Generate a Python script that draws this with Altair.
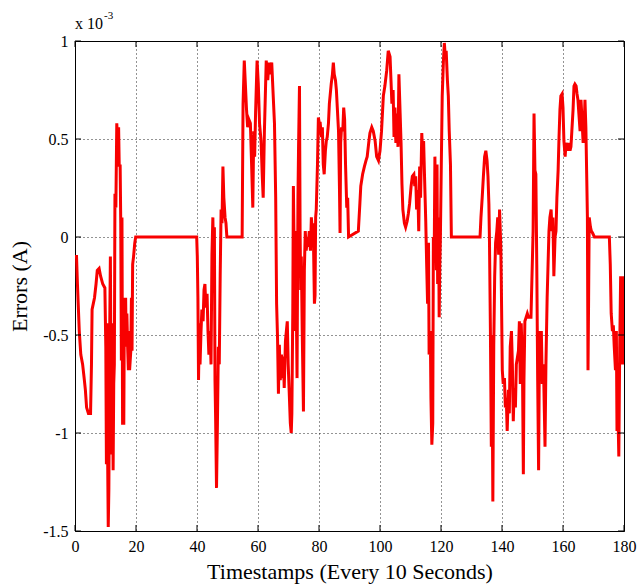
import altair as alt
import pandas as pd

# Errors in units of 1e-3 A
xs = [0, 0.5, 0.8, 1.1, 1.4, 1.9, 2.5, 3.0, 3.4, 3.8, 4.4, 5.1, 5.4, 5.6, 6.0, 6.4, 6.9, 7.3, 7.9, 8.4, 9.1, 9.8,
      10.1, 10.3, 10.5, 10.7, 10.9, 11.1, 11.4, 11.6, 11.8, 12.0, 12.2, 12.5, 12.7, 12.9, 13.1, 13.4, 13.7, 14.0,
      14.3, 14.5, 14.8, 15.0, 15.2, 15.4, 15.6, 16.0, 16.2, 16.4, 16.6, 16.8, 17.0, 17.3, 17.5, 17.7, 17.9, 18.3,
      18.5, 18.7, 18.9, 19.2, 19.6, 19.9,
      39.9, 40.1, 40.3, 40.5, 40.8, 41.0, 41.3, 41.6, 42.0, 42.3, 42.6, 42.9, 43.3, 43.6, 43.9, 44.3, 44.6, 44.9,
      45.2, 45.5, 45.7, 45.9, 46.1, 46.4, 46.7, 47.0, 47.3, 47.6, 47.9, 48.2, 48.5, 48.8, 49.2, 49.5, 49.8,
      54.8, 55.1, 55.5, 55.8, 56.2, 56.6, 57.0, 57.5, 57.9, 58.3, 58.6, 58.9, 59.2, 59.7, 60.1, 60.5, 61.0, 61.4,
      61.7, 62.1, 62.4, 62.7, 63.2, 63.6, 64.0, 64.5, 64.9, 65.4, 65.8, 66.1, 66.4, 66.7, 67.0, 67.3, 67.7, 68.0,
      68.3, 68.6, 69.0, 69.3, 69.6, 69.9, 70.3, 70.6, 70.9, 71.1, 71.4, 71.6, 71.8, 72.0, 72.2, 72.6, 72.8, 73.1,
      73.3, 73.6, 73.8, 74.0, 74.2, 74.5, 74.9, 75.2, 75.5, 75.8, 76.2, 76.5, 76.8, 77.2, 77.5, 77.8, 78.1, 78.5,
      78.7, 78.9, 79.1, 79.5, 79.8, 80.1, 80.4, 80.8, 81.1, 81.4, 81.7, 82.1, 82.4, 82.7, 83.1, 83.4, 83.7, 84.0,
      84.4, 84.7, 85.0, 85.4, 85.7, 86.0, 86.4, 86.7, 86.9, 87.1, 87.4, 87.8, 88.1, 88.4, 88.7, 89.1, 89.4, 89.7,
      92.9, 93.4, 93.7, 94.3, 94.9, 95.4, 95.8, 96.3, 96.7, 97.3, 97.8, 98.4, 98.9, 99.5, 100.0, 100.5, 101.1,
      101.6, 102.2, 102.7, 103.3, 103.6, 103.9, 104.3, 104.6, 104.9, 105.2, 105.6, 105.9, 106.2, 106.6, 106.9,
      107.2, 107.5, 108.0, 108.4, 108.9, 109.3, 109.7, 110.2, 110.6, 111.1, 111.4, 111.7, 112.0, 112.4, 112.7,
      113.0, 113.3, 113.7, 114.0, 114.3, 114.6, 115.0, 115.3, 115.6, 115.9, 116.1, 116.5, 116.7, 117.0, 117.3,
      117.5, 117.8, 118.0, 118.3, 118.5, 118.7, 118.9, 119.2, 119.4, 119.6, 119.8, 120.1, 120.4, 120.8, 121.1,
      121.4, 121.7, 122.1, 122.4, 122.7, 123.1, 123.4,
      132.8, 133.1, 133.5, 133.9, 134.3, 134.7, 135.1, 135.4, 135.7, 135.9, 136.2, 136.5, 136.7, 137.0, 137.3,
      137.6, 137.9, 138.3, 138.6, 138.9, 139.2, 139.6, 139.8, 140.1, 140.4, 140.8, 141.1, 141.4, 141.7, 142.1,
      142.4, 142.7, 143.1, 143.4, 143.7, 144.0, 144.4, 144.7, 145.0, 145.4, 145.7, 146.0, 146.3, 146.7, 147.0,
      147.2, 147.5, 147.9, 148.3, 148.7, 149.2, 149.5, 149.8, 150.2, 150.5, 150.8, 151.1, 151.4, 151.7, 152.0,
      152.3, 152.6, 152.9, 153.2, 153.6, 153.9, 154.1, 154.4, 154.8, 155.1, 155.4, 155.7, 156.1, 156.4, 156.7,
      157.0, 157.4, 157.7, 158.0, 158.4, 158.7, 159.0, 159.3, 159.7, 160.0, 160.3, 160.7, 161.0, 161.3, 161.6,
      162.0, 162.3, 162.6, 162.9, 163.3, 163.6, 163.9, 164.3, 164.6, 164.9, 165.2, 165.6, 165.9, 166.2, 166.6,
      166.9, 167.2, 167.5, 167.8, 168.0, 168.2, 168.4, 168.6, 169.0, 169.3, 169.7, 170.3,
      175.2, 175.5, 175.8, 176.2, 176.5, 176.8, 177.2, 177.5, 177.7, 177.9, 178.3, 178.6, 178.9, 179.3, 179.6, 180.0]

ys = [-0.1, -0.1, -0.24, -0.36, -0.48, -0.6, -0.65, -0.72, -0.78, -0.87, -0.9, -0.9, -0.65, -0.37, -0.34, -0.31,
      -0.24, -0.17, -0.16, -0.2, -0.24, -0.26,
      -0.56, -1.16, -0.44, -1.12, -1.48, -1.29, -0.43, -0.1, -0.73, -1.11, -0.44, -1.19, -0.75, -0.65, 0.22, 0.15,
      0.58, 0.46, 0.56, 0.36, 0.37, 0.07, -0.63, 0.1, -0.95, -0.95, -0.31, -0.48, -0.31, -0.56, -0.39, -0.58,
      -0.68, -0.48, -0.68, -0.58, -0.31, -0.58, -0.14, -0.1, -0.03, 0.0,
      0.0, -0.1, -0.31, -0.73, -0.44, -0.65, -0.49, -0.37, -0.43, -0.27, -0.24, -0.36, -0.29, -0.48, -0.6, -0.48,
      -0.65, -0.09, 0.1, -0.2, 0.05, -0.73, -0.92, -1.28, -0.95, -0.56, -0.65, -0.2, 0.14, 0.07, 0.36, 0.2, 0.1,
      0.07, 0.0,
      0.0, 0.68, 0.9, 0.8, 0.66, 0.56, 0.6, 0.58, 0.37, 0.15, 0.54, 0.41, 0.63, 0.9, 0.78, 0.58, 0.49, 0.31, 0.2,
      0.54, 0.72, 0.9, 0.8, 0.89, 0.83, 0.89, 0.75, 0.58, 0.2, -0.34, -0.51, -0.8, -0.55, -0.73, -0.6, -0.72,
      -0.61, -0.77, -0.53, -0.48, -0.43, -0.65, -0.82, -0.95, -1.0, -0.9, -0.39, 0.26, 0.0, -0.48, 0.03, -0.41,
      -0.72, 0.2, 0.46, 0.77, 0.03, -0.27, -0.1, -0.48, -0.89, -0.17, 0.03, -0.07, 0.0, -0.05, 0.03, -0.07, 0.1,
      0.03, 0.07, -0.34, -0.3, 0.1, 0.14, 0.37, 0.61, 0.58, 0.58, 0.51, 0.56, 0.37, 0.32, 0.44, 0.49, 0.51, 0.58,
      0.68, 0.73, 0.78, 0.83, 0.89, 0.83, 0.8, 0.75, 0.66, 0.54, 0.26, 0.02, 0.48, 0.56, 0.54, 0.66, 0.6, 0.37,
      0.15, 0.2, 0.0,
      0.03, 0.17, 0.26, 0.32, 0.36, 0.39, 0.41, 0.48, 0.53, 0.56, 0.54, 0.49, 0.41, 0.39, 0.44, 0.54, 0.72, 0.77,
      0.85, 0.95, 0.92, 0.8, 0.68, 0.75, 0.51, 0.66, 0.48, 0.63, 0.46, 0.83, 0.63, 0.48, 0.27, 0.14, 0.07, 0.05,
      0.08, 0.12, 0.17, 0.26, 0.31, 0.32, 0.26, 0.31, 0.14, 0.24, 0.03, 0.36, 0.2, 0.53, 0.41, 0.49, 0.31, 0.08,
      -0.14, -0.34, -0.03, -0.6, -0.48, -0.82, -1.06, -0.95, 0.0, -0.03, 0.41, 0.03, -0.17, 0.37, -0.24, 0.1,
      -0.41, -0.14, 0.0, 0.37, 0.72, 0.9, 0.99, 0.92, 0.95, 0.8, 0.72, 0.54, 0.37, 0.0,
      0.0, 0.1, 0.2, 0.31, 0.41, 0.44, 0.39, 0.31, 0.17, -0.03, -0.48, -1.07, -0.5, -1.35, -0.55, -0.2, -0.03,
      0.03, 0.1, -0.09, 0.14, -0.05, -0.27, -0.68, -0.75, -0.72, -0.87, -0.82, -0.99, -0.78, -0.9, -0.56, -0.48,
      -0.65, -0.94, -0.77, -0.87, -0.65, -0.62, -0.58, -0.43, -0.75, -0.44, -0.65, -1.21, -0.73, -0.43, -0.41,
      -0.39, -0.41, -0.41, -0.41, -0.22, 0.03, 0.63, 0.34, 0.32, -0.14, -0.73, -1.19, -0.48, -0.65, -0.48, -0.75,
      -0.65, -0.9, -1.07, -0.65, -0.31, -0.14, 0.03, 0.1, 0.14, 0.03, 0.1, -0.2, 0.0, 0.03, 0.2, 0.34, 0.51, 0.65,
      0.72, 0.73, 0.66, 0.49, 0.41, 0.48, 0.46, 0.44, 0.48, 0.44, 0.46, 0.54, 0.65, 0.77, 0.78, 0.77, 0.73, 0.7,
      0.63, 0.54, 0.7, 0.61, 0.48, 0.54, 0.7, 0.56, 0.29, 0.1, -0.68, -0.31, 0.1, 0.05, 0.03, 0.02, 0.0,
      0.0, -0.14, -0.39, -0.48, -0.45, -0.56, -0.68, -0.48, -0.99, -0.8, -1.12, -0.56, -0.2, -0.65, -0.2, -0.65]

x_ticks = [0, 20, 40, 60, 80, 100, 120, 140, 160, 180]
y_ticks = [-1.5, -1, -0.5, 0, 0.5, 1]

W, H = 549, 490
FONT = "Liberation Serif"

df = pd.DataFrame({"t": xs, "err": ys})

xscale = alt.Scale(domain=[0, 180], nice=False, zero=False)
yscale = alt.Scale(domain=[-1.5, 1], nice=False, zero=False)

line = alt.Chart(df).mark_line(color="#f80000", strokeWidth=3, interpolate="linear", clip=True).encode(
    x=alt.X("t:Q", scale=xscale,
            axis=alt.Axis(values=x_ticks, title="Timestamps (Every 10 Seconds)", grid=True,
                          gridDash=[1, 3], gridColor="#000000", gridOpacity=0.85, tickSize=0,
                          domain=False, labelFont=FONT, labelFontSize=16, labelPadding=7,
                          labelColor="#000000", titleFont=FONT, titleFontSize=22,
                          titleFontWeight="normal", titleColor="#000000", titlePadding=7,
                          labelFlush=False)),
    y=alt.Y("err:Q", scale=yscale,
            axis=alt.Axis(values=y_ticks, title="Errors (A)", grid=True, gridDash=[1, 3],
                          gridColor="#000000", gridOpacity=0.85, tickSize=0, domain=False,
                          labelFont=FONT, labelFontSize=16, labelPadding=7, labelColor="#000000",
                          labelExpr="datum.value + ''", titleFont=FONT, titleFontSize=22,
                          titleFontWeight="normal", titleColor="#000000", titlePadding=11,
                          labelFlush=False)),
    order="t:Q",
)

xt = pd.DataFrame({"v": x_ticks})
yt = pd.DataFrame({"v": y_ticks})

ticks_bottom = alt.Chart(xt).mark_rule(color="black", strokeWidth=1).encode(
    x=alt.X("v:Q", scale=xscale), y=alt.value(H - 6), y2=alt.value(H))
ticks_top = alt.Chart(xt).mark_rule(color="black", strokeWidth=1).encode(
    x=alt.X("v:Q", scale=xscale), y=alt.value(0), y2=alt.value(6))
ticks_left = alt.Chart(yt).mark_rule(color="black", strokeWidth=1).encode(
    y=alt.Y("v:Q", scale=yscale), x=alt.value(0), x2=alt.value(6))
ticks_right = alt.Chart(yt).mark_rule(color="black", strokeWidth=1).encode(
    y=alt.Y("v:Q", scale=yscale), x=alt.value(W - 6), x2=alt.value(W))

mult = alt.Chart(pd.DataFrame({"s": ["x 10"]})).mark_text(
    font=FONT, fontSize=16, align="left", baseline="alphabetic", color="black").encode(
    text="s:N", x=alt.value(0), y=alt.value(-12))
expo = alt.Chart(pd.DataFrame({"s": ["-3"]})).mark_text(
    font=FONT, fontSize=11, align="left", baseline="alphabetic", color="black").encode(
    text="s:N", x=alt.value(29), y=alt.value(-22))

chart = alt.layer(line, ticks_bottom, ticks_top, ticks_left, ticks_right, mult, expo).properties(
    width=W, height=H,
    autosize=alt.AutoSizeParams(type="none"),
    padding={"left": 75, "top": 41, "right": 16, "bottom": 56},
    background="white",
).configure_view(stroke="black", strokeWidth=1)

chart.save("out.html", embed_options={"renderer": "svg", "actions": False})
